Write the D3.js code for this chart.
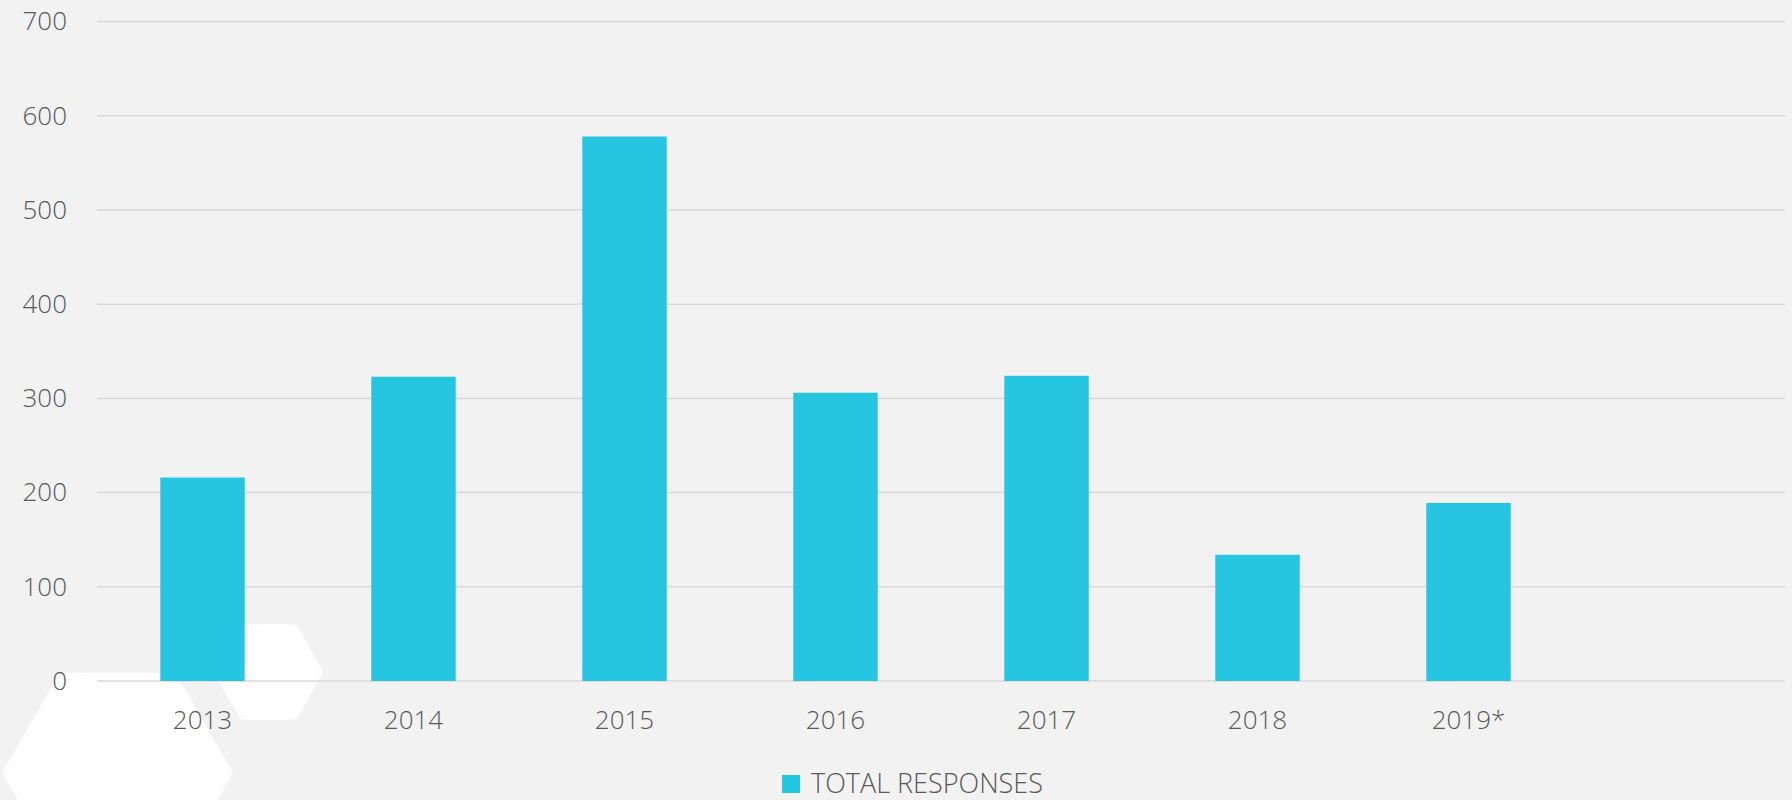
<!DOCTYPE html>
<html>
<head>
<meta charset="utf-8">
<script src="https://cdn.jsdelivr.net/npm/d3@7"></script>
<style>
  html, body { margin: 0; padding: 0; background: #f2f2f2; overflow: hidden; }
  svg { display: block; }
</style>
</head>
<body>
<script>
const categories = ["2013", "2014", "2015", "2016", "2017", "2018", "2019*", ""];
const totalResponses = [216, 323, 578, 306, 324, 134, 189, null];
const yTicks = [0, 100, 200, 300, 400, 500, 600, 700];
const seriesName = "TOTAL RESPONSES";

const W = 1792, H = 800;
const margin = { left: 97, right: 7, top: 21.6, bottom: 119 };
const barColor = "#26c6e3";
const textColor = "#595959";
const gridColor = "#d9d9d9";
const font = "'Open Sans', 'Segoe UI', sans-serif";
const fontWeight = 350;

const svg = d3.select("body").append("svg").attr("width", W).attr("height", H);
svg.append("rect").attr("width", W).attr("height", H).attr("fill", "#f2f2f2");

// decorative hexagons
function hexPoints(cx, cy, R) {
  return d3.range(6).map(i => {
    const a = Math.PI / 3 * i;
    return [cx + R * Math.cos(a), cy + R * Math.sin(a)];
  });
}
const hexes = [ {cx: 117.5, cy: 773, R: 111}, {cx: 268.4, cy: 672, R: 50.5} ];
svg.append("g").selectAll("path").data(hexes).join("path")
  .attr("d", d => d3.line()(hexPoints(d.cx, d.cy, d.R)) + "Z")
  .attr("fill", "#ffffff").attr("stroke", "#ffffff")
  .attr("stroke-width", 8).attr("stroke-linejoin", "round");

const x = d3.scaleBand().domain(categories)
  .range([margin.left, W - margin.right])
  .paddingInner(0.6).paddingOuter(0.3);
const y = d3.scaleLinear().domain([0, 700]).range([H - margin.bottom, margin.top]);

// gridlines
svg.append("g").selectAll("line").data(yTicks).join("line")
  .attr("x1", margin.left).attr("x2", W - margin.right)
  .attr("y1", d => y(d)).attr("y2", d => y(d))
  .attr("stroke", gridColor).attr("stroke-width", 1.5);

// y axis labels
const yAxis = d3.axisLeft(y).tickValues(yTicks).tickSize(0).tickPadding(0);
const yG = svg.append("g").attr("transform", `translate(67,0)`).call(yAxis);
yG.select(".domain").remove();
yG.selectAll("text").attr("fill", textColor).style("font-family", font)
  .style("font-size", "26px").style("font-weight", fontWeight);

// bars
const data = categories.map((c, i) => ({ c, v: totalResponses[i] })).filter(d => d.v != null);
svg.append("g").selectAll("rect").data(data).join("rect")
  .attr("x", d => x(d.c)).attr("width", x.bandwidth())
  .attr("y", d => y(d.v)).attr("height", d => y(0) - y(d.v))
  .attr("fill", barColor);

// x axis labels
const xAxis = d3.axisBottom(x).tickSize(0).tickPadding(0);
const xG = svg.append("g").attr("transform", `translate(0,${y(0) + 30})`).call(xAxis);
xG.select(".domain").remove();
xG.selectAll("text").attr("fill", textColor).style("font-family", font)
  .style("font-size", "26px").style("font-weight", fontWeight);

// legend
const lg = svg.append("g").attr("transform", "translate(782,775)");
lg.append("rect").attr("width", 18).attr("height", 18).attr("fill", barColor);
lg.append("text").attr("x", 29).attr("y", 18)
  .attr("fill", textColor).style("font-family", font)
  .style("font-size", "27px").style("font-weight", fontWeight)
  .text(seriesName);
</script>
</body>
</html>
